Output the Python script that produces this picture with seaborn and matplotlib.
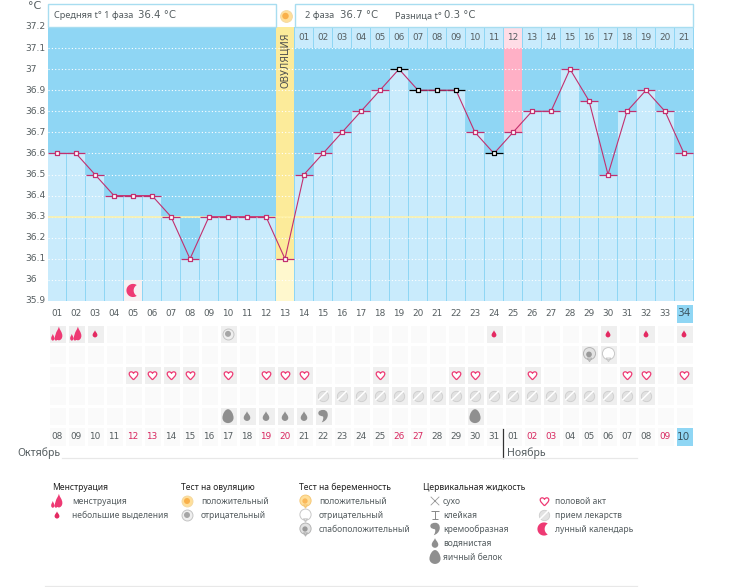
import numpy as np, pandas as pd
import matplotlib
matplotlib.use("Agg")
import matplotlib.pyplot as plt
from matplotlib.path import Path
from matplotlib.patches import Rectangle
from matplotlib.colors import ListedColormap
from matplotlib.transforms import Affine2D
import seaborn as sns

# ---------- data ----------
cycle_days = list(range(1, 35))
temps = [36.6,36.6,36.5,36.4,36.4,36.4,36.3,36.1,36.3,36.3,36.3,36.3,36.1,36.5,36.6,36.7,36.8,36.9,37.0,
         36.9,36.9,36.9,36.7,36.6,36.7,36.8,36.8,37.0,36.85,36.5,36.8,36.9,36.8,36.6]
black_days = [19,20,21,22,24]
ovulation_day = 13
pink_day = 25
pink_top = 37.1
phase2_labels = ["%02d" % d for d in range(1, 22)]
y_labels = ["37.2","37.1","37","36.9","36.8","36.7","36.6","36.5","36.4","36.3","36.2","36.1","36","35.9"]
y_values = [37.2,37.1,37.0,36.9,36.8,36.7,36.6,36.5,36.4,36.3,36.2,36.1,36.0,35.9]
cycle_labels = ["%02d" % d for d in cycle_days]
date_labels = ["08","09","10","11","12","13","14","15","16","17","18","19","20","21","22","23","24","25",
               "26","27","28","29","30","31","01","02","03","04","05","06","07","08","09","10"]
pink_dates = [5,6,12,13,19,20,26,27,33]
heavy_days = [1,2]
light_days = [3,24,30,32,34]
ov_neg_days = [10]
preg_weak_days = [29]
preg_neg_days = [30]
heart_days = [5,6,7,8,10,12,13,14,18,22,23,26,31,32,34]
pill_days = list(range(15,33))
watery_days = [11,12,13,14]
creamy_days = [15]
egg_days = [10,23]
moon_days = [5]

# ---------- colours ----------
BLUE = "#8FD6F4"; LIGHT = "#C9EBFC"; YEL = "#FCEB9A"; PALEY = "#FFF8CE"
PINKLINE = "#C2306F"; PINKICON = "#EE3A74"; GREY = "#555D60"; ICON = "#8F8F8F"
SANS = ["Noto Sans", "DejaVu Sans"]

plt.rcParams["font.family"] = ["DejaVu Sans"]
fig = plt.figure(figsize=(7.31, 5.87), dpi=100, facecolor="white")
W, H = 731.0, 587.0
def axes_px(l, t, r, b):
    return fig.add_axes([l/W, 1-b/H, (r-l)/W, (b-t)/H])

# ---------- icon shapes ----------
C3 = Path.CURVE4
def curve(v):
    return Path(v, [Path.MOVETO]+[C3]*(len(v)-1))
drop = curve([(0,1),(.15,.55),(.68,.2),(.68,-.35),(.68,-.75),(.32,-1),(0,-1),(-.32,-1),(-.68,-.75),(-.68,-.35),(-.68,.2),(-.15,.55),(0,1)])
egg = curve([(0,1),(.42,1),(.8,.3),(.8,-.25),(.8,-.7),(.42,-1),(0,-1),(-.42,-1),(-.8,-.7),(-.8,-.25),(-.8,.3),(-.42,1),(0,1)])
heart = curve([(0,-1),(-.5,-.45),(-1,-.1),(-1,.4),(-1,.95),(-.25,1.05),(0,.5),(.25,1.05),(1,.95),(1,.4),(1,-.1),(.5,-.45),(0,-1)])
heavy = Path.make_compound_path(drop.transformed(Affine2D().scale(.75,1).translate(.28,.05)),
                                drop.transformed(Affine2D().scale(.36,.5).translate(-.62,-.5)),
                                drop.transformed(Affine2D().scale(.3,.42).translate(-.15,-.58)))
comma = curve([(-.75,.5),(-.75,.9),(-.3,1),(.05,1),(.6,1),(.85,.5),(.75,0),(.65,-.5),(.3,-.85),(-.2,-1),
               (.05,-.6),(.1,-.25),(0,-.05),(-.35,.05),(-.75,.05),(-.75,.5)])
t = np.radians(np.linspace(55, 305, 30)); u = np.radians(np.linspace(240, 120, 30))
moon = Path(np.vstack([np.c_[np.cos(t), np.sin(t)], np.c_[1.05+.95*np.cos(u), .95*np.sin(u)]]), closed=False)
balloon = Path.make_compound_path(Path.unit_circle().transformed(Affine2D().translate(0,.15).scale(.85)),
                                  Path([(-.3,-.5),(0,-1),(.3,-.5),(0,-.5)],[1,2,2,79]))
cross = Path([(-1,-1),(1,1),(-1,1),(1,-1)],[1,2,1,2])
tee = Path([(-1,1),(1,1),(0,1),(0,-1),(-.6,-1),(.6,-1)],[1,2,1,2,1,2])
slash = Path([(-.7,-.7),(.7,.7)],[1,2])

def mark(ax, xs, ys, m, s, fc, ec="none", lw=0, z=6):
    sns.scatterplot(x=xs, y=ys, marker=m, s=s, color=fc, edgecolor=ec, linewidth=lw, zorder=z, ax=ax, legend=False)

def pill(ax, xs, ys, s=56):
    mark(ax, xs, ys, "o", s, "#E2E2E2", "#CDCDCD", .6)
    mark(ax, xs, ys, slash, s*.8, "none", "#FFFFFF", 1.1, 7)
def ringed(ax, xs, ys, outer, inner, edge, s=62):
    mark(ax, xs, ys, "o", s, outer, edge, .7)
    mark(ax, xs, ys, "o", s*.3, inner, "none", 0, 7)
def bal(ax, xs, ys, fc, ec, dot=None, s=105):
    mark(ax, xs, ys, balloon, s, fc, ec, .7)
    if dot:
        mark(ax, xs, ys, "o", s*.16, dot, "none", 0, 7)

# ---------- main temperature chart ----------
df = pd.DataFrame({"day": cycle_days, "temp": temps,
                   "phase": ["ov" if d == ovulation_day else "base" for d in cycle_days]})
ax = axes_px(47.5, 27, 693.5, 301)
ax.set_facecolor(BLUE)
sns.barplot(data=df, x="day", y="temp", hue="phase", hue_order=["base","ov"], palette={"base":LIGHT,"ov":PALEY},
            native_scale=True, dodge=False, width=.94, saturation=1, legend=False, ax=ax, zorder=1)
ax.set_xlim(.5, 34.5); ax.set_ylim(35.9, 37.2)
ov_t = temps[ovulation_day-1]
ax.bar([ovulation_day], [37.2-ov_t], bottom=[ov_t], width=.98, color=YEL, zorder=1.5)
ax.bar([ovulation_day], [ov_t-35.9], bottom=[35.9], width=.98, color=PALEY, zorder=1.5)
ax.bar([pink_day], [pink_top-temps[pink_day-1]], bottom=[temps[pink_day-1]], width=.94, color="#FFB0C6", zorder=1.5)
top_days = cycle_days[ovulation_day:]
ax.bar(top_days, [.1]*len(top_days), bottom=[37.1]*len(top_days), width=.94,
       color=["#FFDDE6" if d == pink_day else LIGHT for d in top_days], zorder=1.5)
for v in y_values[1:-1]:
    ax.axhline(v, color="white", lw=.8, ls=(0,(1,2)), zorder=2)
ax.axhline(36.3, color="#FFF2A8", lw=1.1, zorder=2.5)
ax.bar(moon_days, [.1]*len(moon_days), bottom=[35.9]*len(moon_days), width=.95, color="#F6F0F2", zorder=3)
mark(ax, moon_days, [35.95]*len(moon_days), moon, 90, PINKICON)
for d, v in zip(cycle_days, temps):
    c = "black" if d in black_days else PINKLINE
    ax.hlines(v, d-.47, d+.47, color=c, lw=.9, zorder=4)
sns.lineplot(data=df, x="day", y="temp", color=PINKLINE, lw=.8, ax=ax, zorder=5, legend=False, errorbar=None)
for days, ec in (([d for d in cycle_days if d not in black_days], PINKLINE), (black_days, "black")):
    mark(ax, days, [temps[d-1] for d in days], "s", 12, "white", ec, .9)
for d, lab in zip(top_days, phase2_labels):
    ax.text(d, 37.15, lab, ha="center", va="center", fontsize=6.4, color=GREY, zorder=6)
ax.text(ovulation_day, 37.2-.028, "ОВУЛЯЦИЯ", rotation=90, ha="center", va="top", fontsize=6.9, color="#4F5050", zorder=6)
ax.set_xlabel(""); ax.set_ylabel("")
ax.set_xticks([]); ax.set_yticks([])
for s in ax.spines.values(): s.set_visible(False)

# ---------- lower calendar grid ----------
state = np.zeros((7, 34), dtype=int)
state[0, :] = 3
state[0, 33] = 2; state[6, 33] = 2
def on(row, days):
    for d in days: state[row, d-1] = 1
on(1, heavy_days+light_days+ov_neg_days)
on(2, preg_weak_days+preg_neg_days)
on(3, heart_days); on(4, pill_days); on(5, watery_days+creamy_days+egg_days)
g = axes_px(47.5, 303, 693.5, 447)
sns.heatmap(state, cmap=ListedColormap(["#FAFAFA","#EFEFEF",BLUE,"#FFFFFF"]), vmin=0, vmax=3, cbar=False,
            linewidths=1, linecolor="white", xticklabels=False, yticklabels=False, ax=g)
g.set_xlim(0, 34); g.set_ylim(7, 0)
xc = lambda days: [d-.5 for d in days]
for d, lab in zip(cycle_days, cycle_labels):
    g.text(d-.5, .5, lab, ha="center", va="center", fontsize=6.4 if d < 34 else 7.6, color=GREY if d < 34 else "#3C5560")
for d, lab in zip(cycle_days, date_labels):
    col = "#D8265F" if d in pink_dates else GREY
    g.text(d-.5, 6.5, lab, ha="center", va="center", fontsize=6.4 if d < 34 else 7.6, color=col if d < 34 else "#3C5560")
mark(g, xc(heavy_days), [1.5]*len(heavy_days), heavy, 105, PINKICON)
mark(g, xc(light_days), [1.5]*len(light_days), drop, 26, "#E42A62")
ringed(g, xc(ov_neg_days), [1.5], "#EFEFEF", "#A6A6A6", "#C4C4C4")
bal(g, xc(preg_weak_days), [2.5], "#E2E2E2", "#B5B5B5", "#999999")
bal(g, xc(preg_neg_days), [2.5], "#FFFFFF", "#C8C8C8")
mark(g, xc(heart_days), [3.5]*len(heart_days), heart, 42, "#FFFFFF", PINKICON, .9)
pill(g, xc(pill_days), [4.5]*len(pill_days))
mark(g, xc(watery_days), [5.5]*len(watery_days), drop, 48, ICON)
mark(g, xc(creamy_days), [5.5], comma, 80, ICON)
mark(g, xc(egg_days), [5.5]*len(egg_days), egg, 100, ICON)

# ---------- overlay: header, labels, legend ----------
o = fig.add_axes([0, 0, 1, 1]); o.set_xlim(0, W); o.set_ylim(H, 0); o.axis("off"); o.patch.set_alpha(0)
def T(x, y, s, size=6.4, c=GREY, fam=None, **k):
    o.text(x, y, s, fontsize=size, color=c, va="center", family=fam or ["DejaVu Sans"], **k)
for (l, r) in ((47.5, 275.5), (294.5, 692.5)):
    o.add_patch(Rectangle((l, 3.5), r-l, 23.5, fc="white", ec="#A8DDF0", lw=1, zorder=1))
T(54.5, 16, "Средняя t° 1 фаза", 6.6, fam=SANS); T(138, 15.5, "36.4 °C", 7.3)
T(305, 16, "2 фаза", 6.6, fam=SANS); T(339.5, 15.5, "36.7 °C", 7.3)
T(395, 16, "Разница t°", 6.6, fam=SANS); T(444, 15.5, "0.3 °C", 7.3)
ringed(o, [285.5], [16], "#FFDF9A", "#F9B04A", "#F5D9A0", 72)
for v, lab in zip(y_values, y_labels):
    y = ax.transData.transform((1, v))[1]
    T(25, H-y, lab, 6.6)
T(28, 6, "°C", 8)
T(17, 453, "Октябрь", 7.6, fam=SANS); T(507, 453, "Ноябрь", 7.6, fam=SANS)
o.plot([503, 503], [429, 458], color="#333333", lw=.9)
o.plot([62, 637], [458, 458], color="#E8E8E8", lw=.9)
o.plot([45, 637], [586, 586], color="#E8E8E8", lw=.9)

legend_titles = [(52, "Менструация"), (181, "Тест на овуляцию"), (299, "Тест на беременность"), (423, "Цервикальная жидкость")]
for x, s in legend_titles:
    T(x, 487, s, 6.15, "#222222", fam=SANS)
L = 6.15
T(72, 501, "менструация", L, fam=SANS); T(72, 515, "небольшие выделения", L, fam=SANS)
T(201, 501, "положительный", L, fam=SANS); T(201, 515, "отрицательный", L, fam=SANS)
T(319, 501, "положительный", L, fam=SANS); T(319, 515, "отрицательный", L, fam=SANS); T(319, 529, "слабоположительный", L, fam=SANS)
for y, s in zip((501, 515, 529, 543, 557), ("сухо", "клейкая", "кремообразная", "водянистая", "яичный белок")):
    T(443, y, s, L, fam=SANS)
for y, s in zip((501, 515, 529), ("половой акт", "прием лекарств", "лунный календарь")):
    T(555, y, s, L, fam=SANS)
mark(o, [57], [501], heavy, 105, PINKICON); mark(o, [57], [515], drop, 26, "#E42A62")
ringed(o, [187], [501], "#FFDF9A", "#F9B04A", "#F5D9A0", 62)
ringed(o, [187], [515], "#EFEFEF", "#A6A6A6", "#C4C4C4", 62)
bal(o, [305], [501], "#FFDF9A", "#F5C878", "#FAB85A", 90)
bal(o, [305], [515], "#FFFFFF", "#C8C8C8", None, 90)
bal(o, [305], [529], "#E2E2E2", "#B5B5B5", "#999999", 90)
mark(o, [435], [501], cross, 38, "none", "#999999", .6)
mark(o, [435], [515], tee, 38, "none", "#888888", .7)
mark(o, [435], [529], comma, 80, ICON)
mark(o, [435], [543], drop, 48, ICON)
mark(o, [435], [557], egg, 100, ICON)
mark(o, [544], [501], heart, 42, "#FFFFFF", PINKICON, .9)
pill(o, [544], [515], 56)
mark(o, [544], [529], moon, 90, PINKICON)
o.set_xlim(0, W); o.set_ylim(H, 0)
fig.savefig("out.png", dpi=100, facecolor="white")
